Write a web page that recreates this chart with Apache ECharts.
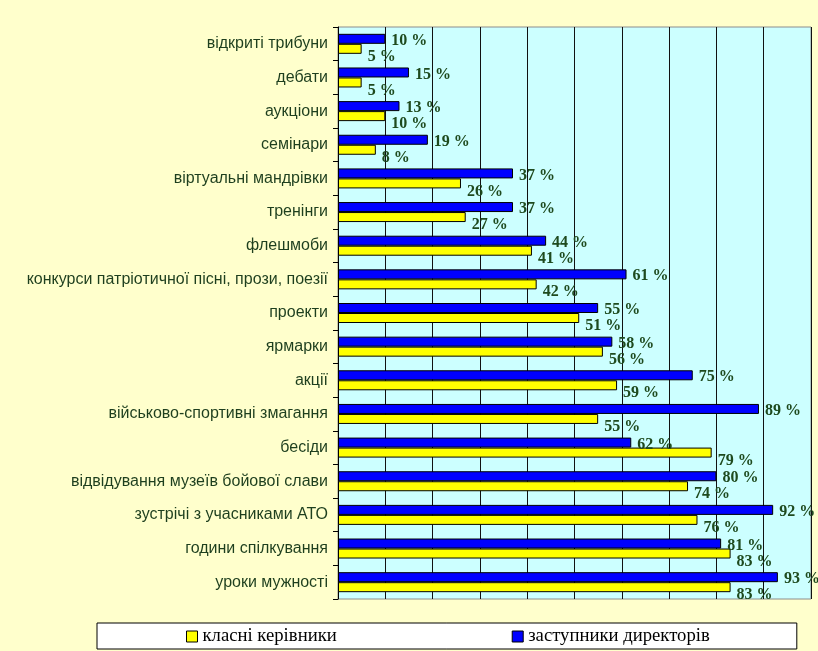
<!DOCTYPE html>
<html>
<head>
<meta charset="utf-8">
<script src="https://cdn.jsdelivr.net/npm/echarts@6/dist/echarts.min.js"></script>
<style>
html,body{margin:0;padding:0;background:#FFFFCC;}
#c{width:818px;height:651px;}
</style>
</head>
<body>
<div id="c"></div>
<script>
var categories = ['відкриті трибуни','дебати','аукціони','семінари','віртуальні мандрівки','тренінги','флешмоби','конкурси патріотичної пісні, прози, поезії','проекти','ярмарки','акції','військово-спортивні змагання','бесіди','відвідування музеїв бойової слави','зустрічі з учасниками АТО','години спілкування','уроки мужності'];
var classTeachers = [5,5,10,8,26,27,41,42,51,56,59,55,79,74,76,83,83];
var deputyDirectors = [10,15,13,19,37,37,44,61,55,58,75,89,62,80,92,81,93];
var xTicks = [0,10,20,30,40,50,60,70,80,90,100];

var chart = echarts.init(document.getElementById('c'), null, {renderer:'canvas'});
var labelStyle = {
  show:true, position:'right', distance:6,
  fontFamily:'Liberation Serif, Times New Roman, serif', fontWeight:'bold', fontSize:16,
  color:'#1E4A1E', formatter:'{c} %'
};
chart.setOption({
  backgroundColor:'#FFFFCC',
  animation:false,
  grid:{left:338, top:27, width:473, height:572, show:true, backgroundColor:'#CCFFFF', borderColor:'#8C8C8C', borderWidth:1},
  legend:{
    left:97, top:623, orient:'horizontal', icon:'rect',
    backgroundColor:'#FFFFFF', borderColor:'#000', borderWidth:1,
    padding:[4,87,3,89], itemGap:175, itemWidth:11, itemHeight:11,
    itemStyle:{borderColor:'#000', borderWidth:1},
    textStyle:{fontFamily:'Liberation Serif, Times New Roman, serif', fontSize:18.7, color:'#000'},
    data:['класні керівники','заступники директорів']
  },
  xAxis:{
    type:'value', min:xTicks[0], max:xTicks[xTicks.length-1], interval:10,
    axisLabel:{show:false}, axisTick:{show:false}, axisLine:{show:false},
    splitLine:{show:true, lineStyle:{color:'#111', width:1}}
  },
  yAxis:{
    type:'category', data:categories, inverse:true,
    axisLine:{show:true, lineStyle:{color:'#000', width:1}},
    axisTick:{show:true, length:5, lineStyle:{color:'#000'}},
    axisLabel:{fontFamily:'Liberation Sans, Arial, sans-serif', fontSize:16, color:'#1E3F1E', margin:10}
  },
  series:[
    {name:'заступники директорів', type:'bar', data:deputyDirectors, barWidth:10, barGap:'0%',
     itemStyle:{color:'#0000FF', borderColor:'#000', borderWidth:1},
     label:Object.assign({}, labelStyle, {offset:[0,2]})},
    {name:'класні керівники', type:'bar', data:classTeachers, barWidth:10, barGap:'0%',
     itemStyle:{color:'#FFFF00', borderColor:'#000', borderWidth:1},
     label:Object.assign({}, labelStyle, {offset:[0,8]})}
  ]
});
</script>
</body>
</html>
